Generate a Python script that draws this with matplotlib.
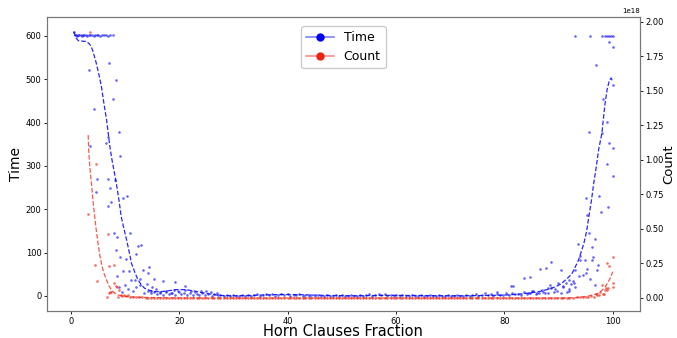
import matplotlib
matplotlib.use("Agg")
import matplotlib.pyplot as plt
from matplotlib.lines import Line2D
import numpy as np

# ---- Time (left axis) ----
# runs that hit the timeout at the low end
time_timeout_left_x = [0.5, 0.7, 0.9, 1.1, 1.3, 1.5, 1.8, 2.0, 2.3, 2.5, 2.8, 3.0, 3.3,
                       3.6, 3.9, 4.2, 4.5, 4.8, 5.1, 5.4, 5.8, 6.1, 6.5, 6.9, 7.3, 7.7]
time_timeout_left_y = [610, 602, 602, 601, 602, 602, 602, 601, 602, 602, 602, 601, 602,
                       602, 602, 601, 602, 602, 602, 601, 602, 602, 602, 601, 602, 602]

time_left_x = [7.0, 3.3, 8.3, 7.8, 4.3, 8.8, 6.9, 6.4, 3.6, 9.15, 4.9, 4.7, 6.8, 7.3, 6.8,
               7.5, 8.1, 7.9, 8.6, 8.4, 9.0, 8.5, 9.6, 10.4, 10.1, 9.6, 10.65, 10.9, 11.1,
               11.8, 12.1, 12.4, 13.0, 12.7, 13.3, 14.2, 14.5, 15.3, 15.0, 17.0, 19.2, 21.1,
               8.9, 9.5, 10.0, 10.5, 11.5, 12.0, 12.8, 13.5, 14.0, 14.8, 15.8, 16.5, 17.5,
               18.4, 19.0, 20.0, 21.0, 22.2, 23.0, 24.0, 25.0, 25.9, 27.0]
time_left_y = [538, 522, 498, 455, 431, 379, 366, 352, 345, 323, 270, 241, 270, 250, 208,
               216, 268, 146, 135, 105, 91, 46, 225, 231, 85, 58, 58, 145, 37,
               38, 98, 115, 118, 40, 60, 52, 66, 39, 21, 35, 32, 24,
               20, 10, 25, 15, 12, 20, 25, 8, 28, 12, 15, 9, 12,
               8, 14, 10, 13, 11, 9, 12, 12, 10, 8]

flat_x = [14.2, 14.8, 15.3, 15.9, 16.4, 17.0, 17.6, 18.1, 18.7, 19.2, 19.8, 20.4, 20.9, 21.5,
          22.0, 22.6, 23.2, 23.7, 24.3, 24.8, 25.4, 26.0, 26.5, 27.1, 27.6, 28.2, 28.8, 29.3,
          29.9, 30.4, 31.0, 31.6, 32.1, 32.7, 33.2, 33.8, 34.4, 34.9, 35.5, 36.0, 36.6, 37.2,
          37.7, 38.3, 38.8, 39.4, 40.0, 40.5, 41.1, 41.6, 42.2, 42.8, 43.3, 43.9, 44.4, 45.0,
          45.6, 46.1, 46.7, 47.2, 47.8, 48.4, 48.9, 49.5, 50.0, 50.6, 51.2, 51.7, 52.3, 52.8,
          53.4, 54.0, 54.5, 55.1, 55.6, 56.2, 56.8, 57.3, 57.9, 58.4, 59.0, 59.6, 60.1, 60.7,
          61.2, 61.8, 62.4, 62.9, 63.5, 64.0, 64.6, 65.2, 65.7, 66.3, 66.8, 67.4, 68.0, 68.5,
          69.1, 69.6, 70.2, 70.8, 71.3, 71.9, 72.4, 73.0, 73.6, 74.1, 74.7, 75.2, 75.8, 76.4,
          76.9, 77.5, 78.0, 78.6, 79.2, 79.7, 80.3, 80.8, 81.4, 82.0, 82.5, 83.1, 83.6, 84.2,
          84.8, 85.3, 85.9, 86.4, 87.0, 87.6, 88.1, 88.7, 89.2, 89.8, 90.4, 90.9, 91.5, 92.0]
time_flat_y = [12, 6, 9, 4, 8, 3, 10, 5, 7, 2, 11, 4, 6, 3,
               8, 2, 5, 3, 6, 2, 4, 1, 5, 2, 3, 1, 2, 1,
               2, 0, 1, 3, 1, 2, 0, 2, 4, 1, 3, 5, 2, 4,
               1, 3, 5, 2, 4, 1, 3, 2, 4, 1, 2, 0, 3, 1,
               2, 0, 1, 3, 1, 0, 2, 1, 3, 0, 1, 2, 0, 1,
               3, 1, 2, 4, 1, 3, 5, 2, 4, 1, 2, 0, 3, 1,
               2, 0, 1, 2, 0, 1, 3, 0, 1, 2, 0, 1, 2, 0,
               1, 3, 0, 1, 2, 0, 1, 3, 1, 2, 4, 1, 3, 6,
               2, 4, 1, 5, 2, 3, 6, 2, 8, 4, 5, 3, 9, 4,
               6, 12, 5, 8, 14, 7, 6, 18, 9, 12, 8, 22, 10, 15]

time_right_x = [78.7, 81.3, 81.6, 83.7, 84.7, 86.6, 87.7, 88.7, 90.5, 88.5, 89.4, 90.0,
                90.8, 91.3, 91.9, 92.4, 92.9, 93.0, 93.1, 93.7, 93.6, 94.0, 94.0, 94.9,
                95.0, 95.3, 95.8, 96.1, 96.1, 96.3, 96.8, 97.1, 97.2, 95.0, 95.3, 95.7,
                96.8, 97.4, 97.8, 99.1, 99.0, 100.0, 99.4, 100.0, 98.1, 95.7, 99.0, 98.2,
                100.0, 96.9, 99.4, 100.0, 84.5, 85.2, 86.0, 87.2, 88.0, 92.0, 92.7, 94.5]
time_right_y = [10, 22, 22, 42, 44, 62, 64, 78, 61, 25, 15, 30,
                20, 29, 37, 28, 29, 60, 21, 45, 120, 92, 82, 82,
                52, 62, 40, 82, 113, 90, 25, 60, 72, 225, 186, 145,
                132, 230, 194, 206, 304, 278, 352, 341, 377, 378, 401, 454,
                486, 532, 585, 574, 8, 12, 6, 9, 18, 12, 35, 48]

time_timeout_right_x = [93.0, 95.9, 98.0, 98.5, 99.0, 99.3, 99.7, 100.0]
time_timeout_right_y = [601, 601, 601, 601, 601, 601, 601, 601]

# dashed trend line for Time
time_fit_x = [0.5, 1.0, 1.4, 2.2, 2.9, 3.4, 3.8, 4.2, 4.7, 5.2, 5.65, 6.1, 6.6, 7.2, 7.6,
              8.0, 8.4, 8.9, 9.3, 9.8, 10.3, 10.8, 11.2, 11.8, 12.4, 13.0, 13.6, 14.5, 15.5,
              16.7, 18.0, 19.0, 20.0, 21.0, 22.0, 23.0, 24.0, 25.0, 26.0, 27.0, 28.0, 30.0,
              33.0, 36.0, 39.0, 42.0, 45.0, 48.0, 52.0, 56.0, 60.0, 64.0, 68.0, 72.0, 76.0,
              78.0, 80.0, 82.0, 83.3, 85.0, 86.4, 88.0, 89.4, 90.5, 91.3, 92.0, 92.5, 93.1,
              93.7, 94.2, 94.7, 95.2, 95.6, 96.1, 96.5, 97.0, 97.4, 98.0, 98.6, 99.0, 99.4,
              99.7, 100.0]
time_fit_y = [610, 595, 589, 588, 587, 582, 575, 560, 537, 510, 483, 445, 406, 345, 314,
              287, 260, 220, 183, 155, 129, 100, 75, 55, 37, 26, 18, 13, 10,
              10, 12, 14, 15, 14.5, 13, 11, 8, 6, 4, 2, 1, 0.5,
              1, 2.5, 3.5, 3, 2, 1, 0.5, 1, 1.5, 1, 0.5, 0.5, 1,
              1.5, 2, 3.5, 5, 7.5, 10, 15, 21, 28, 37, 45, 52, 67,
              83, 102, 122, 150, 183, 222, 260, 300, 337, 375, 445, 478, 498,
              503, 495]

# ---- Count (right axis, units of 1e18) ----
count_left_x = [3.6, 4.7, 3.25, 6.9, 4.4, 4.9, 7.0, 8.0, 6.6, 7.0, 7.2, 7.5, 8.0, 8.3,
                8.6, 8.9, 8.7, 9.2, 9.5, 9.9, 10.2, 10.6, 11.0, 11.5, 12.0, 12.6, 13.2, 13.8]
count_left_y = [1.93, 0.97, 0.61, 0.46, 0.24, 0.12, 0.23, 0.24, 0.01, 0.034, 0.045, 0.04, 0.11, 0.09,
                0.08, 0.06, 0.01, 0.02, 0.015, 0.025, 0.012, 0.02, 0.008, 0.006, 0.01, 0.004, 0.006, 0.003]

count_flat_y = [0.002, 0.0, 0.003, 0.0, 0.001, 0.0, 0.002, 0.0, 0.001, 0.0, 0.002, 0.0, 0.0, 0.001,
                0.0, 0.0, 0.001, 0.0, 0.0, 0.0, 0.001, 0.0, 0.0, 0.0, 0.0, 0.001, 0.0, 0.0,
                0.0, 0.0, 0.0, 0.0, 0.0, 0.0, 0.0, 0.0, 0.0, 0.0, 0.0, 0.0, 0.0, 0.0,
                0.0, 0.0, 0.0, 0.0, 0.0, 0.0, 0.0, 0.0, 0.0, 0.0, 0.0, 0.0, 0.0, 0.0,
                0.0, 0.0, 0.0, 0.0, 0.0, 0.0, 0.0, 0.0, 0.0, 0.0, 0.0, 0.0, 0.0, 0.0,
                0.0, 0.0, 0.0, 0.0, 0.0, 0.0, 0.0, 0.0, 0.0, 0.0, 0.0, 0.0, 0.0, 0.0,
                0.0, 0.0, 0.0, 0.0, 0.0, 0.0, 0.0, 0.0, 0.0, 0.0, 0.0, 0.0, 0.0, 0.0,
                0.0, 0.0, 0.0, 0.0, 0.0, 0.0, 0.0, 0.0, 0.0, 0.0, 0.0, 0.0, 0.0, 0.0,
                0.0, 0.0, 0.0, 0.0, 0.0, 0.0, 0.0, 0.0, 0.0, 0.0, 0.0, 0.0, 0.0, 0.0,
                0.0, 0.0, 0.0, 0.0, 0.0, 0.0, 0.001, 0.0, 0.0, 0.001, 0.0, 0.002, 0.0, 0.001]

count_right_x = [92.6, 93.5, 94.0, 94.5, 95.0, 95.5, 96.0, 96.5, 97.0, 97.1, 97.5, 97.7,
                 98.1, 98.2, 98.4, 98.6, 98.7, 99.0, 99.2, 99.0, 99.4, 100.0, 100.0, 100.0]
count_right_y = [0.003, 0.006, 0.005, 0.01, 0.006, 0.008, 0.012, 0.01, 0.03, 0.02, 0.02, 0.045,
                 0.094, 0.03, 0.03, 0.058, 0.07, 0.06, 0.07, 0.25, 0.23, 0.30, 0.11, 0.08]

count_fit_x = [3.2, 3.3, 3.5, 3.8, 4.1, 4.4, 4.7, 5.0, 5.3, 5.65, 6.1, 6.6, 7.0, 7.5, 8.1,
               8.7, 9.5, 10.5, 12.0, 15.0, 20.0, 30.0, 50.0, 70.0, 90.0, 93.0, 94.5, 95.6,
               96.5, 97.4, 98.0, 98.6, 99.1, 99.5, 100.0]
count_fit_y = [1.18, 1.07, 0.95, 0.83, 0.70, 0.59, 0.49, 0.40, 0.32, 0.25, 0.18, 0.13, 0.09, 0.058, 0.035,
               0.022, 0.014, 0.01, 0.006, 0.003, 0.001, 0.0, 0.0, 0.0, 0.0, 0.002, 0.008, 0.015,
               0.024, 0.034, 0.055, 0.08, 0.11, 0.14, 0.19]
count_scale = 1e18

BLUE = "#0000ff"
RED = "#ee2211"

time_x = time_timeout_left_x + time_left_x + flat_x + time_right_x + time_timeout_right_x
time_y = time_timeout_left_y + time_left_y + time_flat_y + time_right_y + time_timeout_right_y
count_x = count_left_x + flat_x + count_right_x
count_y = np.array(count_left_y + count_flat_y + count_right_y) * count_scale

fig = plt.figure(figsize=(6.77, 3.38), dpi=100)
ax = fig.add_axes([0.0694, 0.080, 0.8756, 0.870])
ax2 = ax.twinx()

ax.scatter(time_x, time_y, s=3.5, color=BLUE, alpha=0.6, linewidths=0)
ax.plot(time_fit_x, time_fit_y, color=BLUE, linestyle="--", linewidth=0.9, alpha=0.85)

ax2.scatter(count_x, count_y, s=3.5, color=RED, alpha=0.65, linewidths=0)
ax2.plot(count_fit_x, np.array(count_fit_y) * count_scale, color=RED, linestyle="--",
         linewidth=0.9, alpha=0.75)

ax.set_xlim(-4.4, 105)
ax.set_ylim(-34.6, 644)
ax2.set_ylim(-0.094e18, 2.036e18)

ax.set_xticks([0, 20, 40, 60, 80, 100])
ax.set_yticks([0, 100, 200, 300, 400, 500, 600])
ax2.set_yticks([0, 0.25e18, 0.5e18, 0.75e18, 1.0e18, 1.25e18, 1.5e18, 1.75e18, 2.0e18])

ax.set_xlabel("Horn Clauses Fraction", fontsize=10.5, labelpad=-1)
ax.set_ylabel("Time", fontsize=10, labelpad=2)
ax2.set_ylabel("Count", fontsize=9.5, labelpad=-1)

for a in (ax, ax2):
    a.tick_params(labelsize=6, length=2.5, width=0.6, pad=1.5)
    for sp in a.spines.values():
        sp.set_linewidth(0.8)
        sp.set_color("#777777")
ax2.yaxis.get_offset_text().set_fontsize(5)

legend_handles = [
    Line2D([0], [0], color=(0, 0, 1, 0.5), linewidth=1.2, marker="o", markersize=5,
           markerfacecolor=BLUE, markeredgecolor=BLUE),
    Line2D([0], [0], color=(0.93, 0.13, 0.07, 0.5), linewidth=1.2, marker="o", markersize=5,
           markerfacecolor=RED, markeredgecolor=RED),
]
ax.legend(legend_handles, ["Time", "Count"], loc="upper center", fontsize=9,
          framealpha=1.0, borderpad=0.4, handlelength=2.2, labelspacing=0.5,
          bbox_to_anchor=(0.5, 0.99))

fig.savefig("out.png", dpi=100)
